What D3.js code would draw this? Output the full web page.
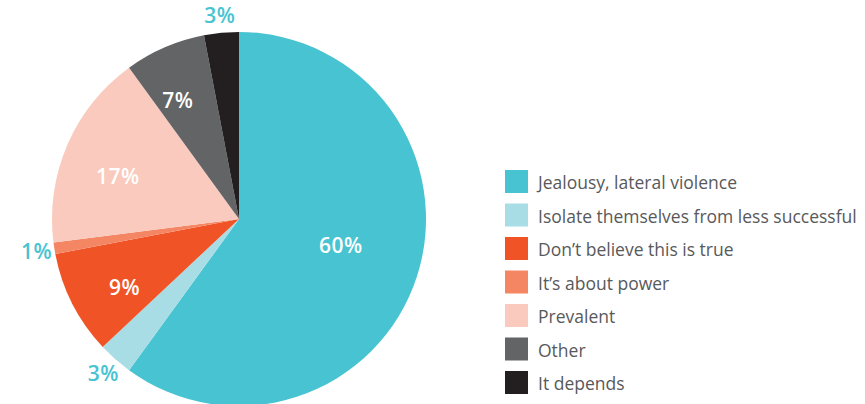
<!DOCTYPE html>
<html><head><meta charset="utf-8">
<script src="https://cdn.jsdelivr.net/npm/d3@7"></script>
<style>body{margin:0;background:#fff}</style>
</head><body>
<svg id="c" width="865" height="404"></svg>
<script>
const categories = ["Jealousy, lateral violence","Isolate themselves from less successful","Don\u2019t believe this is true","It\u2019s about power","Prevalent","Other","It depends"];
const values = [60,3,9,1,17,7,3];
const colors = ["#48C3D1","#A8DDE5","#F05426","#F58664","#F9CABD","#636466","#231F20"];
const insideLabel = [true,false,true,false,true,true,false];

const svg = d3.select("#c");
const cx = 239, cy = 219, R = 187;
const g = svg.append("g").attr("transform",`translate(${cx},${cy})`);
const pie = d3.pie().sort(null).value(d=>d)(values);
const arc = d3.arc().innerRadius(0).outerRadius(R);
g.selectAll("path.s").data(pie).join("path").attr("class","s")
  .attr("d",arc).attr("fill",(d,i)=>colors[i]);
function labelPos(d,i){
  const inside = insideLabel[i];
  const r = inside ? 138 - 0.55*d.data : 205;
  const a = (d.startAngle + d.endAngle)/2 - (inside ? 0.065 : 0);
  return [r*Math.sin(a), -r*Math.cos(a)];
}
g.selectAll("text.l").data(pie).join("text").attr("class","l")
  .attr("transform",(d,i)=>`translate(${labelPos(d,i)})`)
  .attr("text-anchor","middle").attr("dominant-baseline","central")
  .attr("font-family","'Open Sans',sans-serif").attr("font-weight",600).attr("font-size",21)
  .attr("letter-spacing",0.5)
  .attr("fill",(d,i)=>insideLabel[i]?"#fff":"#48C3D1")
  .text(d=>d.data+"%");

const lg = svg.append("g").attr("transform","translate(505,170)");
const rows = lg.selectAll("g").data(categories).join("g")
  .attr("transform",(d,i)=>`translate(0,${i*33.5})`);
rows.append("rect").attr("width",23).attr("height",23).attr("fill",(d,i)=>colors[i]);
rows.append("text").attr("x",33).attr("y",12).attr("dominant-baseline","central")
  .attr("font-family","'Open Sans',sans-serif").attr("font-size",17.5).attr("fill","#58595B")
  .text(d=>d);
</script>
</body></html>
